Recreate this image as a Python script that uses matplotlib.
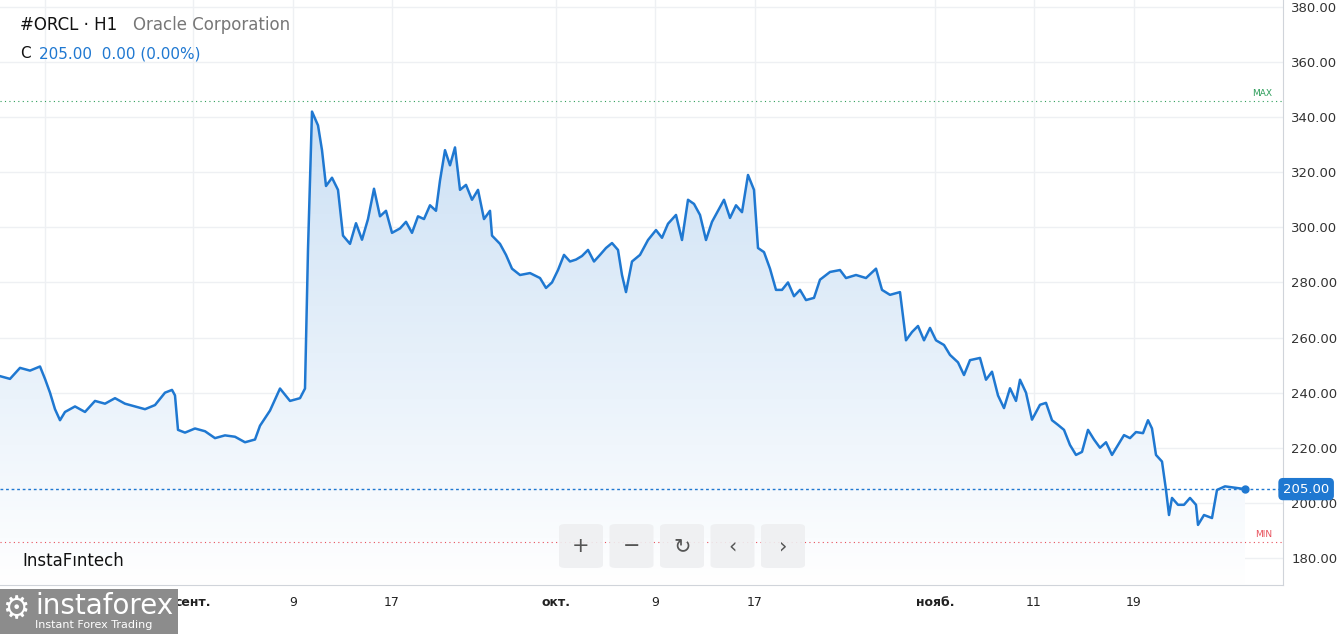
import matplotlib
matplotlib.use("Agg")
import matplotlib.pyplot as plt
import numpy as np
from matplotlib.patches import FancyBboxPatch, Rectangle
from matplotlib.colors import LinearSegmentedColormap

bar = [0,10,20,30,40,45,50,55,60,65,75,85,95,105,115,125,135,145,155,165,172,175,178,185,195,205,215,225,235,245,255,260,270,280,290,300,305,308,312,318,322,326,332,338,343,350,356,362,368,374,380,386,392,400,406,412,418,424,430,436,440,445,450,455,460,466,472,478,484,490,492,500,506,512,520,530,540,546,552,558,564,570,576,582,588,594,600,606,612,618,622,626,632,640,648,656,662,668,676,682,688,694,700,706,712,718,724,730,736,742,748,754,758,764,770,776,782,788,794,800,806,814,820,830,840,846,856,866,876,882,890,900,906,912,918,924,930,936,944,950,958,964,970,980,986,992,998,1004,1010,1016,1020,1026,1032,1040,1046,1052,1058,1064,1070,1076,1082,1088,1094,1100,1106,1112,1118,1124,1130,1136,1143,1148,1152,1156,1162,1166,1169,1172,1178,1184,1190,1196,1198,1204,1212,1217,1225,1245]
price = [246,245,249,248,249.5,245,240,234,230,233,235,233,237,236,238,236,235,234,235.5,240,241,239,226.5,225.5,227,226,223.5,224.5,224,222,223,228,233.5,241.5,237,238,241.5,292,342,337,328,315,318,313.6,297,294,301.5,295.5,303,314,304,306,298,299.6,302,298,304,303,308,306,317,328,322.5,329,313.6,315.4,310,313.6,303,306,297,294,290,285,282.7,283.4,281.6,278,280,284.5,290,287.6,288.3,289.6,291.8,287.6,290,292.5,294.3,291.8,282.7,276.5,287.6,290,295.4,299,296.2,301.3,304.5,295.4,310,308.5,304.5,295.4,302,306,310,303.4,308,305.5,319,313.6,292.5,291,285,277.3,277.3,280,275,277.3,273.6,274.4,281,283.8,284.5,281.6,282.7,281.6,285,277.3,275.5,276.5,259,262,264.2,259,263.5,259,257.3,253.7,251,246.4,251.8,252.6,244.7,247.6,239,234.4,241.6,237,244.7,240,230.2,235.6,236.3,230,228.3,226.5,221,217.4,218.5,226.5,223,220,222,217.4,221,224.6,223.5,225.7,225.3,230,227,217.4,215,204.7,195.6,201.8,199.3,199.3,201.8,199.3,192,195.6,194.5,204.7,206,205]
tick_pos = [45,193,293,392,556,655,755,935,1034,1134]
tick_lab = ["19","сент.","9","17","окт.","9","17","нояб.","11","19"]
yticks = [180,200,220,240,260,280,300,320,340,360,380]
last_price = 205.00
max_level = 346.0
min_level = 185.8

W, H = 1341, 634
fig = plt.figure(figsize=(W/100, H/100), dpi=100)
ax = fig.add_axes([0, 1-585/H, 1283/W, 585/H])
ymin, ymax = 170.2, 382.5
ax.set_xlim(0, 1283); ax.set_ylim(ymin, ymax)
blue = "#1f78d1"

grad = np.linspace(0, 1, 256).reshape(-1, 1)
cm = LinearSegmentedColormap.from_list("g", [(1,1,1,1), (0.80,0.88,0.96,1)])
im = ax.imshow(grad, extent=[0, max(bar), ymin, max(price)], origin="lower", cmap=cm, aspect="auto", zorder=1)
poly = ax.fill_between(bar, price, ymin, color="none")
im.set_clip_path(poly.get_paths()[0], transform=ax.transData)

for y in yticks:
    ax.axhline(y, color="#eef0f3", lw=1, zorder=0)
for x in tick_pos:
    ax.axvline(x, color="#eef0f3", lw=1, zorder=0)

ax.plot(bar, price, color=blue, lw=1.8, zorder=3)
ax.plot([bar[-1]], [price[-1]], "o", color=blue, ms=5, zorder=4)
ax.axhline(last_price, color=blue, lw=1, ls=(0, (2, 2)), zorder=2)
ax.axhline(max_level, color="#2e9e5b", lw=0.8, ls=(0, (1, 3)), zorder=2)
ax.axhline(min_level, color="#e8505b", lw=0.8, ls=(0, (1, 3)), zorder=2)
ax.text(1262, max_level+1, "MAX", color="#2e9e5b", fontsize=6.5, ha="center", va="bottom")
ax.text(1264, min_level+1, "MIN", color="#e8505b", fontsize=6.5, ha="center", va="bottom")

ax.yaxis.tick_right()
ax.set_yticks(yticks)
ax.set_yticklabels([f"{v:.2f}" for v in yticks], fontsize=9.5, color="#333")
ax.set_xticks(tick_pos)
ax.set_xticklabels(tick_lab, fontsize=9, color="#222")
for lab in ax.get_xticklabels():
    if lab.get_text() in ("сент.", "окт.", "нояб."):
        lab.set_fontweight("bold")
ax.tick_params(axis="x", length=0, pad=8)
ax.tick_params(axis="y", length=0, pad=6)
for s in ["top", "left"]:
    ax.spines[s].set_visible(False)
ax.spines["right"].set_color("#d0d4da"); ax.spines["bottom"].set_color("#d0d4da")

ax.text(1.0, last_price, f"{last_price:.2f}", transform=ax.get_yaxis_transform(), ha="left", va="center",
        fontsize=9.5, color="white", bbox=dict(boxstyle="round,pad=0.3", fc=blue, ec=blue), zorder=6)

fig.text(20/W, 1-25/H, "#ORCL · H1", fontsize=12, color="#111", va="center", fontweight="medium")
fig.text(133/W, 1-25/H, "Oracle Corporation", fontsize=12, color="#777", va="center")
fig.text(20/W, 1-54/H, "C", fontsize=11, color="#111", va="center")
fig.text(39/W, 1-54/H, "205.00  0.00 (0.00%)", fontsize=11, color=blue, va="center")
fig.text(22/W, 1-561/H, "InstaFıntech", fontsize=12, color="#111", va="center")

for i, sym in enumerate(["+", "−", "↻", "‹", "›"]):
    x0 = 559 + i*50.5
    fig.patches.append(FancyBboxPatch((x0/W, 1-568/H), 44/W, 44/H, boxstyle="round,pad=0,rounding_size=0.005",
                                      transform=fig.transFigure, fc="#eeeff1", ec="none", alpha=0.9))
    fig.text((x0+22)/W, 1-546/H, sym, fontsize=15, color="#555", ha="center", va="center")

fig.patches.append(Rectangle((0, 0), 178/W, 45/H, transform=fig.transFigure, fc="#8c8c8c", ec="none", zorder=10))
fig.text(35/W, 1-606/H, "instaforex", fontsize=20, color="white", va="center", zorder=11)
fig.text(35/W, 1-625/H, "Instant Forex Trading", fontsize=8, color="white", va="center", zorder=11)
fig.text(16/W, 1-610/H, "⚙", fontsize=22, color="white", ha="center", va="center", zorder=11)

fig.savefig("out.png", dpi=100)
